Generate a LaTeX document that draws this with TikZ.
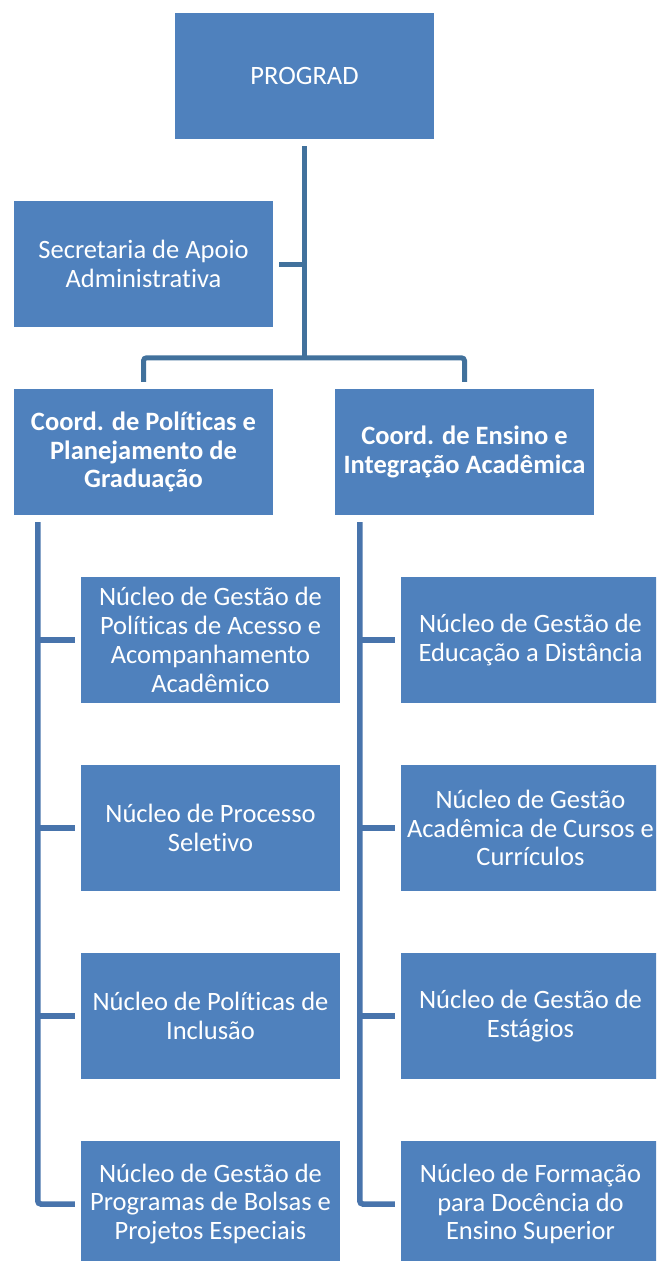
\documentclass[tikz,border=0pt]{standalone}
\usepackage{fontspec}
\setmainfont{Carlito}[Ligatures={NoCommon}]
\definecolor{boxblue}{HTML}{4F81BD}
\definecolor{lineA}{HTML}{41719C}
\definecolor{lineB}{HTML}{4874AC}
\begin{document}
\begin{tikzpicture}[x=1pt,y=-1pt,
  box/.style={fill=boxblue, draw=none, text=white, minimum width=259pt, minimum height=126pt,
    align=center, inner sep=0pt, font=\fontsize{26.5}{28.8}\selectfont},
  boldbox/.style={box, font=\fontsize{26.5}{28.8}\selectfont\bfseries},
  connA/.style={draw=lineA, line width=5pt, rounded corners=3pt},
  connB/.style={draw=lineB, line width=5.5pt, rounded corners=3pt}]
\useasboundingbox (0,0) rectangle (656,1261);
\begin{scope}
\clip (0,0) rectangle (656,1261);
\node[box] (prog) at (304.5,76) {PROGRAD};
\node[box] (sec) at (143.5,264) {Secretaria de Apoio\\Administrativa};
\node[boldbox] (cl) at (143.5,452) {Coord. de Políticas e\\Planejamento de\\Graduação};
\node[boldbox] (cr) at (464.5,452) {Coord. de Ensino e\\Integração Acadêmica};
\node[box] (l1) at (210.5,640) {Núcleo de Gestão de\\Políticas de Acesso e\\Acompanhamento\\Acadêmico};
\node[box] (l2) at (210.5,828) {Núcleo de Processo\\Seletivo};
\node[box] (l3) at (210.5,1016) {Núcleo de Políticas de\\Inclusão};
\node[box] (l4) at (210.5,1204) {Núcleo de Gestão de\\Programas de Bolsas e\\Projetos Especiais};
\node[box] (r1) at (530.5,640) {Núcleo de Gestão de\\Educação a Distância};
\node[box] (r2) at (530.5,828) {Núcleo de Gestão\\Acadêmica de Cursos e\\Currículos};
\node[box] (r3) at (530.5,1016) {Núcleo de Gestão de\\Estágios};
\node[box] (r4) at (530.5,1204) {Núcleo de Formação\\para Docência do\\Ensino Superior};
% top connectors
\coordinate (bus) at ([yshift=31pt]cl.north -| prog.south);
\draw[connA] ([yshift=-7pt]prog.south) -- (bus);
\draw[connA] ([yshift=7pt]cl.north) |- (bus) -| ([yshift=7pt]cr.north);
\draw[connA] ([xshift=6pt]sec.east) -- (sec.east -| prog.south);
% left branch
\coordinate (lv) at ([xshift=24pt,yshift=-7pt]cl.south west);
\draw[connB] (lv) |- ([xshift=-6pt]l4.west);
\foreach \n in {l1,l2,l3} \draw[connB] (lv |- \n.west) -- ([xshift=-6pt]\n.west);
% right branch
\coordinate (rv) at ([xshift=25pt,yshift=-7pt]cr.south west);
\draw[connB] (rv) |- ([xshift=-6pt]r4.west);
\foreach \n in {r1,r2,r3} \draw[connB] (rv |- \n.west) -- ([xshift=-6pt]\n.west);
\end{scope}
\end{tikzpicture}
\end{document}
